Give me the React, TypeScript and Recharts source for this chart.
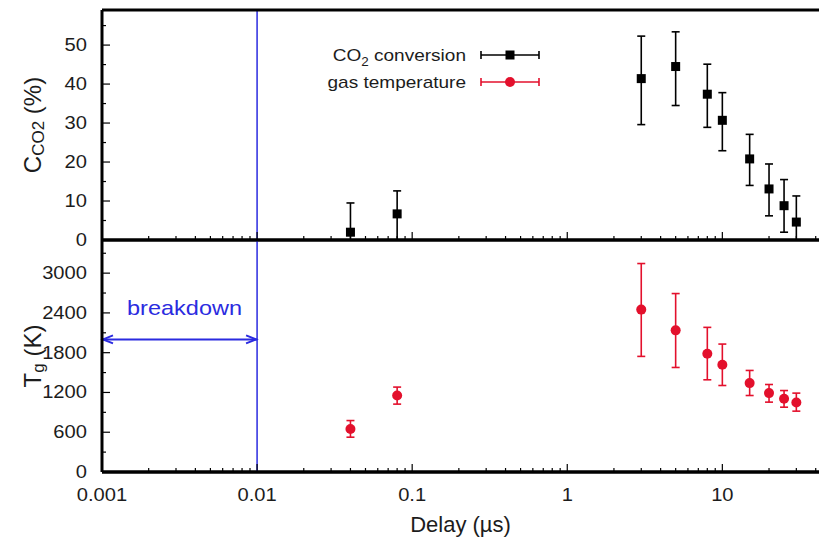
import React from "react";
import { ScatterChart, Scatter, XAxis, YAxis, ErrorBar, ReferenceLine } from "recharts";

// delay in microseconds
const delay = [0.04, 0.08, 3, 5, 8, 10, 15, 20, 25, 30];

// CO2 conversion (%) with lower / upper error bar ends
const conversion = [2, 6.7, 41.4, 44.5, 37.4, 30.7, 20.8, 13.1, 8.8, 4.6];
const conversionLo = [0, 0, 29.6, 34.5, 28.9, 22.9, 14, 6.2, 2, 0];
const conversionHi = [9.5, 12.6, 52.3, 53.4, 45.1, 37.8, 27.1, 19.5, 15.5, 11.3];

// gas temperature (K) with lower / upper error bar ends
const temperature = [650, 1154, 2450, 2137, 1784, 1618, 1341, 1190, 1104, 1048];
const temperatureLo = [525, 1024, 1744, 1577, 1391, 1305, 1154, 1054, 978, 918];
const temperatureHi = [776, 1281, 3145, 2692, 2182, 1930, 1532, 1320, 1229, 1190];

const xDecades = [0.001, 0.01, 0.1, 1, 10];
const xTickLabels = ["0.001", "0.01", "0.1", "1", "10"];
const minorMult = [2, 3, 4, 5, 6, 7, 8, 9];
const xMax = 42;

const convMajor = [0, 10, 20, 30, 40, 50];
const convMinor = [5, 15, 25, 35, 45, 55];
const tempMajor = [0, 600, 1200, 1800, 2400, 3000];
const tempMinor = [300, 900, 1500, 2100, 2700, 3300];

const breakdownStart = 0.001;
const breakdownEnd = 0.01;
const breakdownLevel = 2000;

const FONT = "'Liberation Sans', Arial, sans-serif";
const BLUE = "#2b2be0";
const RED = "#e3102c";
const INK = "#1c1c1c";
const SX = 1.12;

const convData = delay.map((d, i) => ({
  delay: d,
  value: conversion[i],
  err: [conversion[i] - conversionLo[i], conversionHi[i] - conversion[i]],
}));
const tempData = delay.map((d, i) => ({
  delay: d,
  value: temperature[i],
  err: [temperature[i] - temperatureLo[i], temperatureHi[i] - temperature[i]],
}));

const xTicks: number[] = [];
xDecades.forEach((d) => {
  xTicks.push(d);
  minorMult.forEach((m) => {
    if (d * m <= xMax) xTicks.push(+(d * m).toPrecision(3));
  });
});

function XTick(props: any) {
  const { x, y, payload, dir, showLabel } = props;
  const idx = xDecades.indexOf(payload.value);
  const major = idx >= 0;
  const len = major ? 8 : 4;
  return (
    <g>
      <line x1={x} x2={x} y1={y} y2={y + dir * len} stroke="#000" strokeWidth={1.2} />
      {showLabel && major && (
        <text
          transform={`translate(${x},${y + 29}) scale(${SX},1)`}
          textAnchor="middle"
          fontSize={18}
          fontFamily={FONT}
          fill={INK}
        >
          {xTickLabels[idx]}
        </text>
      )}
    </g>
  );
}

function YTick(props: any) {
  const { x, y, payload, majors } = props;
  const major = majors.includes(payload.value);
  return (
    <g>
      <line x1={x} x2={x + (major ? 8 : 4)} y1={y} y2={y} stroke="#000" strokeWidth={1.2} />
      {major && (
        <text
          transform={`translate(${x - 15},${y + 6}) scale(${SX},1)`}
          textAnchor="end"
          fontSize={18}
          fontFamily={FONT}
          fill={INK}
        >
          {payload.value}
        </text>
      )}
    </g>
  );
}

function YLabel(props: any) {
  const { viewBox, main, sub, tail } = props;
  const cx = viewBox.x - 10;
  const cy = viewBox.y + viewBox.height / 2;
  return (
    <text
      transform={`translate(${cx},${cy}) rotate(-90)`}
      textAnchor="middle"
      dominantBaseline="central"
      fontSize={24}
      fontFamily={FONT}
      fill={INK}
    >
      {main}
      <tspan fontSize={17} dy={6}>{sub}</tspan>
      <tspan dy={-6}>{tail}</tspan>
    </text>
  );
}

function Square(p: any) {
  return <rect x={p.cx - 4.5} y={p.cy - 4.5} width={9} height={9} fill="#000" />;
}
function Dot(p: any) {
  return <circle cx={p.cx} cy={p.cy} r={5} fill={RED} />;
}

function BreakdownArrow(p: any) {
  const { x1, y1, x2 } = p;
  const l = Math.min(x1, x2);
  const r = Math.max(x1, x2);
  return (
    <g>
      <line x1={l} y1={y1} x2={r} y2={y1} stroke={BLUE} strokeWidth={2} />
      <polyline points={`${l + 11},${y1 - 4} ${l + 1},${y1} ${l + 11},${y1 + 4}`} fill="none" stroke={BLUE} strokeWidth={2} />
      <polyline points={`${r - 11},${y1 - 4} ${r - 1},${y1} ${r - 11},${y1 + 4}`} fill="none" stroke={BLUE} strokeWidth={2} />
      <text
        transform={`translate(${(l + r) / 2 + 5},${y1 - 24}) scale(${SX},1)`}
        textAnchor="middle"
        fontSize={21}
        fontFamily={FONT}
        fill={BLUE}
      >
        breakdown
      </text>
    </g>
  );
}

const axisLine = { stroke: "#000", strokeWidth: 3 };

function Legend() {
  const rows = [
    { label: "conversion", co2: true, color: "#000", y: 55 },
    { label: "gas temperature", co2: false, color: RED, y: 82 },
  ];
  return (
    <svg width={819} height={110} style={{ position: "absolute", left: 0, top: 0, pointerEvents: "none" }}>
      {rows.map((r) => (
        <g key={r.label}>
          <text
            transform={`translate(466,${r.y + 6}) scale(${SX},1)`}
            textAnchor="end"
            fontSize={17}
            fontFamily={FONT}
            fill={INK}
          >
            {r.co2 ? (
              <>
                CO<tspan fontSize={12} dy={5}>2</tspan>
                <tspan dy={-5}> {r.label}</tspan>
              </>
            ) : (
              r.label
            )}
          </text>
          <line x1={481} x2={539} y1={r.y} y2={r.y} stroke={r.color} strokeWidth={1.6} />
          <line x1={481} x2={481} y1={r.y - 4} y2={r.y + 4} stroke={r.color} strokeWidth={1.6} />
          <line x1={539} x2={539} y1={r.y - 4} y2={r.y + 4} stroke={r.color} strokeWidth={1.6} />
          {r.co2 ? (
            <rect x={505.5} y={r.y - 4.5} width={9} height={9} fill={r.color} />
          ) : (
            <circle cx={510} cy={r.y} r={5} fill={r.color} />
          )}
        </g>
      ))}
    </svg>
  );
}

export default function App() {
  const xCommon = {
    type: "number" as const,
    scale: "log" as const,
    domain: [0.001, xMax],
    allowDataOverflow: true,
    ticks: xTicks,
    interval: 0 as const,
    tickLine: false,
    tickSize: 0,
    tickMargin: 0,
    axisLine,
  };
  return (
    <div style={{ position: "absolute", left: 0, top: 0, width: 819, height: 540, background: "#fff", fontFamily: FONT }}>
      <div style={{ position: "absolute", left: 0, top: 0 }}>
        <ScatterChart width={819} height={260} margin={{ top: 9, right: 0, bottom: 19, left: 42 }}>
          <XAxis {...xCommon} dataKey="delay" height={1} tick={(p: any) => <XTick {...p} dir={-1} showLabel={false} />} />
          <XAxis {...xCommon} xAxisId="top" orientation="top" height={1} tick={(p: any) => <XTick {...p} dir={1} showLabel={false} />} />
          <YAxis
            type="number"
            dataKey="value"
            domain={[0, 59]}
            allowDataOverflow
            ticks={[...convMajor, ...convMinor].sort((a, b) => a - b)}
            interval={0}
            width={60}
            tickLine={false}
            tickSize={0}
            tickMargin={0}
            axisLine={axisLine}
            tick={(p: any) => <YTick {...p} majors={convMajor} />}
            label={<YLabel main="C" sub="CO2" tail=" (%)" />}
          />
          <ReferenceLine x={0.01} stroke={BLUE} strokeWidth={1.5} />
          <Scatter data={convData} shape={Square} isAnimationActive={false}>
            <ErrorBar dataKey="err" direction="y" width={4} stroke="#000" strokeWidth={1.6} />
          </Scatter>
        </ScatterChart>
      </div>
      <div style={{ position: "absolute", left: 0, top: 236 }}>
        <ScatterChart width={819} height={304} margin={{ top: 3, right: 0, bottom: 0, left: 42 }}>
          <XAxis
            {...xCommon}
            dataKey="delay"
            height={68}
            tick={(p: any) => <XTick {...p} dir={-1} showLabel />}
            label={{ value: "Delay (\u00b5s)", position: "insideBottom", offset: 8, fontSize: 22, fill: INK, fontFamily: FONT }}
          />
          <XAxis {...xCommon} xAxisId="top" orientation="top" height={1} tick={(p: any) => <XTick {...p} dir={1} showLabel={false} />} />
          <YAxis
            type="number"
            dataKey="value"
            domain={[0, 3500]}
            allowDataOverflow
            ticks={[...tempMajor, ...tempMinor].sort((a, b) => a - b)}
            interval={0}
            width={60}
            tickLine={false}
            tickSize={0}
            tickMargin={0}
            axisLine={axisLine}
            tick={(p: any) => <YTick {...p} majors={tempMajor} />}
            label={<YLabel main="T" sub="g" tail=" (K)" />}
          />
          <ReferenceLine y={0} stroke="#000" strokeWidth={3} />
          <ReferenceLine x={0.01} stroke={BLUE} strokeWidth={1.5} />
          <ReferenceLine
            segment={[
              { x: breakdownStart, y: breakdownLevel },
              { x: breakdownEnd, y: breakdownLevel },
            ]}
            shape={BreakdownArrow}
          />
          <Scatter data={tempData} shape={Dot} isAnimationActive={false}>
            <ErrorBar dataKey="err" direction="y" width={4} stroke={RED} strokeWidth={1.6} />
          </Scatter>
        </ScatterChart>
      </div>
      <Legend />
    </div>
  );
}
